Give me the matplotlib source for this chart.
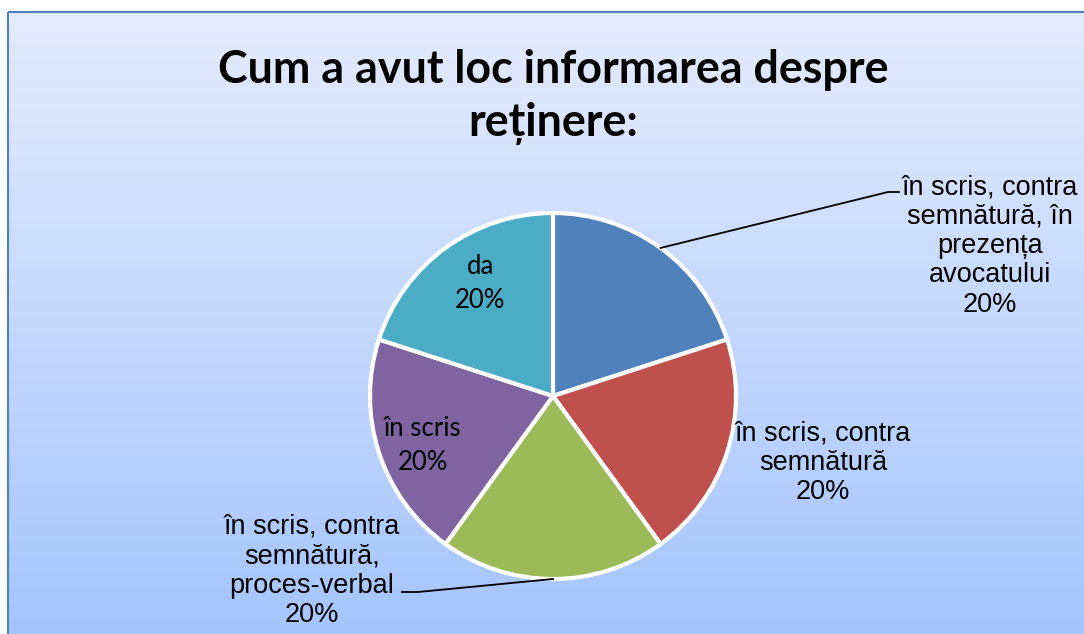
import matplotlib.pyplot as plt
from matplotlib.patches import Rectangle
import numpy as np

# Data
labels = ['în scris, contra\nsemnătură, în\nprezența\navocatului',
          'în scris, contra\nsemnătură',
          'în scris, contra\nsemnătură,\nproces-verbal',
          'în scris',
          'da']
values = [20, 20, 20, 20, 20]
colors = ['#4F81BD', '#C0504D', '#9BBB59', '#8064A2', '#4BACC6']
title = 'Cum a avut loc informarea despre\nreținere:'

W, H = 1084, 634
fig = plt.figure(figsize=(W / 100, H / 100), dpi=100)
fig.patch.set_facecolor('white')

# --- background: vertical gradient inside a thin blue frame ---
bg = fig.add_axes([0, 0, 1, 1])
bg.axis('off')
top = np.array([0.894, 0.925, 0.988])
bot = np.array([0.647, 0.773, 0.996])
t = np.linspace(0, 1, 256)[:, None, None]
grad = np.repeat(top + (bot - top) * t, 2, axis=1)
bg.imshow(grad, extent=[8, W + 5, H, 12], aspect='auto', interpolation='bilinear')
bg.add_patch(Rectangle((8, 12), W, H, fill=False, edgecolor='#4F81BD', linewidth=1.5))
bg.set_xlim(0, W)
bg.set_ylim(H, 0)

bg.text(553, 97, title, ha='center', va='center', fontsize=32.3, fontweight='bold',
        family='Lato', linespacing=1.35)

# --- pie ---
cx, cy, r = 553, 396, 183
ax = fig.add_axes([(cx - r) / W, (H - cy - r) / H, 2 * r / W, 2 * r / H])
wedges, _ = ax.pie(values, colors=colors, startangle=90, counterclock=False,
                   radius=1, wedgeprops=dict(edgecolor='white', linewidth=3))
ax.set_xlim(-1, 1)
ax.set_ylim(-1, 1)
ax.axis('off')

pct = [f'{v / sum(values) * 100:.0f}%' for v in values]


def px(x, y):
    return (x - cx) / r, (cy - y) / r


def mid(w):
    a = np.deg2rad((w.theta1 + w.theta2) / 2)
    return np.cos(a), np.sin(a)


out_kw = dict(ha='center', va='center', fontsize=19.5, family='Liberation Sans',
              linespacing=1.17, clip_on=False)
in_kw = dict(ha='center', va='center', fontsize=18.5, family='Lato',
             linespacing=1.45, clip_on=False)

# slice 0: outside, leader line to the right
x0, y0 = mid(wedges[0])
(ax1, ay1), (ax2, ay2) = px(888, 192), px(899, 192)
ax.plot([x0, ax1, ax2], [y0, ay1, ay2], color='black', lw=1.3, clip_on=False)
ax.text(*px(990, 246), f'{labels[0]}\n{pct[0]}', **out_kw)

# slice 1: outside, no leader line
ax.text(*px(823, 463), f'{labels[1]}\n{pct[1]}', **out_kw)

# slice 2: outside, leader line to the left
x2, y2 = mid(wedges[2])
(bx1, by1), (bx2, by2) = px(418, 592), px(402, 592)
ax.plot([x2, bx1, bx2], [y2, by1, by2], color='black', lw=1.3, clip_on=False)
ax.text(*px(312, 571), f'{labels[2]}\n{pct[2]}', **out_kw)

# slices 3 and 4: inside labels
ax.text(*px(423, 446), f'{labels[3]}\n{pct[3]}', **in_kw)
ax.text(*px(480, 283), f'{labels[4]}\n{pct[4]}', **in_kw)

fig.savefig('out.png', dpi=100)
